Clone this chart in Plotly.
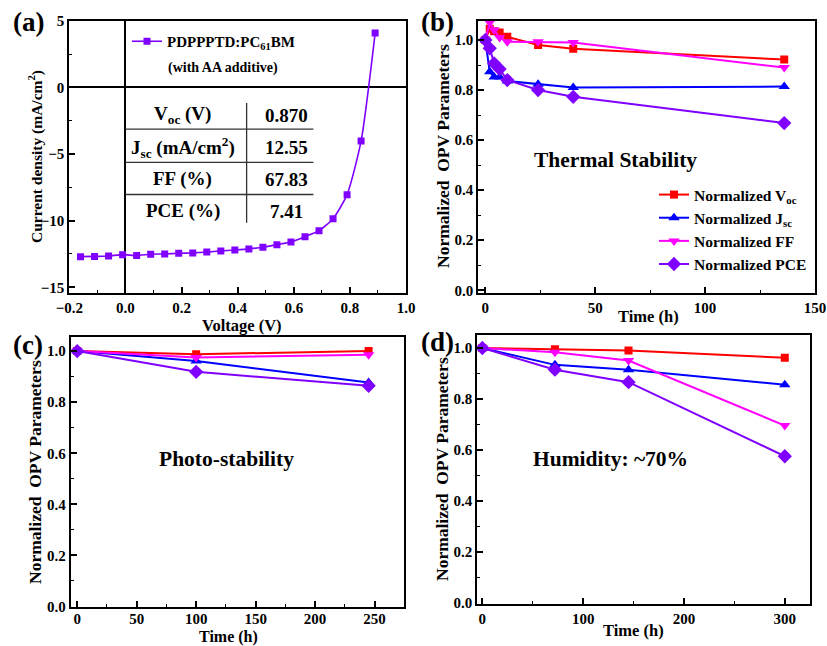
import plotly.graph_objects as go

# ---- (a) J-V curve ----
voltage = [-0.16, -0.11, -0.06, -0.01, 0.04, 0.09, 0.14, 0.19, 0.24, 0.29, 0.34,
           0.39, 0.44, 0.49, 0.54, 0.59, 0.64, 0.69, 0.74, 0.79, 0.84, 0.89]
current = [-12.70, -12.68, -12.65, -12.55, -12.62, -12.52, -12.50, -12.45, -12.42,
           -12.36, -12.27, -12.20, -12.12, -12.00, -11.80, -11.60, -11.20, -10.75,
           -9.85, -8.05, -4.02, 4.07]
table_params = ["V<sub>oc</sub> (V)", "J<sub>sc</sub> (mA/cm<sup>2</sup>)", "FF (%)", "PCE (%)"]
table_values = ["0.870", "12.55", "67.83", "7.41"]

# ---- (b) thermal stability ----
time_b = [0, 2, 4, 6.5, 10, 24, 40, 136]
voc_b = [1.0, 1.045, 1.035, 1.030, 1.013, 0.980, 0.965, 0.922]
jsc_b = [1.0, 0.873, 0.852, 0.852, 0.836, 0.823, 0.810, 0.814]
ff_b = [1.0, 1.070, 1.040, 1.010, 0.993, 0.993, 0.990, 0.890]
pce_b = [1.0, 0.967, 0.907, 0.884, 0.840, 0.800, 0.773, 0.668]

# ---- (c) photo-stability ----
time_c = [0, 100, 245]
voc_c = [1.0, 0.988, 1.0]
jsc_c = [1.0, 0.961, 0.877]
ff_c = [1.0, 0.975, 0.986]
pce_c = [1.0, 0.919, 0.864]

# ---- (d) humidity ----
time_d = [0, 72, 145, 300]
voc_d = [1.0, 0.995, 0.990, 0.962]
jsc_d = [1.0, 0.934, 0.915, 0.856]
ff_d = [1.0, 0.983, 0.951, 0.696]
pce_d = [1.0, 0.915, 0.866, 0.576]

series_names = ["Normalized V<sub>oc</sub>", "Normalized J<sub>sc</sub>",
                "Normalized FF", "Normalized PCE"]
colors = ["#ff0000", "#0000ff", "#ff00ff", "#8000ff"]
symbols = ["square", "triangle-up", "triangle-down", "diamond"]
msizes = [8, 10, 10, 11]

FONT = "Liberation Serif"
W, H = 827, 646

fig = go.Figure()

# J-V curve
fig.add_trace(go.Scatter(
    x=voltage, y=current, mode="lines+markers", xaxis="x", yaxis="y",
    line=dict(color="#8000ff", width=1.6, shape="spline", smoothing=0.6),
    marker=dict(symbol="square", size=7, color="#8000ff"),
    name="PDPPPTD:PC<sub>61</sub>BM", legend="legend2", showlegend=True))

panels = [
    ("x2", "y2", time_b, [voc_b, jsc_b, ff_b, pce_b], True),
    ("x3", "y3", time_c, [voc_c, jsc_c, ff_c, pce_c], False),
    ("x4", "y4", time_d, [voc_d, jsc_d, ff_d, pce_d], False),
]
for xa, ya, t, vals, show in panels:
    for i, v in enumerate(vals):
        fig.add_trace(go.Scatter(
            x=t, y=v, mode="lines+markers", xaxis=xa, yaxis=ya,
            name=series_names[i], showlegend=show, legend="legend",
            line=dict(color=colors[i], width=2),
            marker=dict(symbol=symbols[i], size=msizes[i], color=colors[i])))


def px_x(px):
    return px / W


def px_y(py):
    return 1 - py / H


tickfont = dict(family=FONT, size=15, color="black", weight="bold")


def axis(domain, rng, dtick, minor_dtick, anchor, fmt=None):
    d = dict(domain=domain, range=rng, anchor=anchor, dtick=dtick,
             automargin=False,
             showline=True, linewidth=2, linecolor="black", mirror=True,
             ticks="inside", ticklen=6, tickwidth=1.5, tickcolor="black",
             minor=dict(ticks="inside", ticklen=3, tickwidth=1.2,
                        tickcolor="black", dtick=minor_dtick),
             showgrid=False, zeroline=False, tickfont=tickfont)
    if fmt:
        d["tickformat"] = fmt
    return d


layout = dict(
    width=W, height=H, margin=dict(l=0, r=0, t=0, b=0, autoexpand=False),
    paper_bgcolor="white", plot_bgcolor="white",
    font=dict(family=FONT, color="black"),
    xaxis=axis([px_x(69.3), px_x(406)], [-0.2, 1.0], 0.2, 0.1, "y", ".1f"),
    yaxis=axis([px_y(293.3), px_y(20.7)], [-15.45, 5], 5, 2.5, "x"),
    xaxis2=axis([px_x(478.3), px_x(815)], [-3.2, 150], 50, 25, "y2"),
    yaxis2=axis([px_y(292.5), px_y(20.5)], [-0.009, 1.078], 0.2, 0.1, "x2", ".1f"),
    xaxis3=axis([px_x(70.7), px_x(404.3)], [-5.5, 275], 50, 25, "y3"),
    yaxis3=axis([px_y(607.3), px_y(337.3)], [-0.003, 1.054], 0.2, 0.1, "x3", ".1f"),
    xaxis4=axis([px_x(477.3), px_x(810)], [-5, 325], 100, 50, "y4"),
    yaxis4=axis([px_y(604), px_y(335)], [-0.003, 1.051], 0.2, 0.1, "x4", ".1f"),
    legend=dict(x=px_x(654), y=px_y(178), xanchor="left", yanchor="top",
                bgcolor="rgba(0,0,0,0)", borderwidth=0,
                font=dict(family=FONT, size=15.5, color="black", weight="bold"),
                itemwidth=30, tracegroupgap=0),
    legend2=dict(x=px_x(127), y=px_y(25), xanchor="left", yanchor="top",
                 bgcolor="rgba(0,0,0,0)", borderwidth=0,
                 font=dict(family=FONT, size=15, color="black", weight="bold"),
                 itemwidth=30),
)

# tick labels of (c) sit a little closer to the axis
layout["xaxis3"]["ticklabelstandoff"] = -3

# zero reference lines in (a)
for k in ("xaxis", "yaxis"):
    layout[k]["zeroline"] = True
    layout[k]["zerolinecolor"] = "black"
    layout[k]["zerolinewidth"] = 1.5

fig.update_layout(**layout)

ann = []
bold = dict(family=FONT, color="black", weight="bold")


def text_at(text, x, y, size, angle=0):
    ann.append(dict(text=text, x=px_x(x), y=px_y(y), xref="paper", yref="paper",
                    xanchor="center", yanchor="middle", textangle=angle,
                    showarrow=False, font=dict(size=size, **bold)))


# panel letters
for label, x, y in [("(a)", 28.5, 22), ("(b)", 437.5, 22), ("(c)", 27.5, 345), ("(d)", 437, 342)]:
    text_at(label, x, y, 27)

# axis titles
ylab = "Normalized  OPV Parameters"
text_at("Current density (mA/cm<sup>2</sup>)", 35, 157, 15.5, -90)
text_at("Voltage (V)", 242, 325, 16.5)
text_at(ylab, 443, 156, 17.5, -90)
text_at("Time (h)", 648, 316, 16.5)
text_at(ylab, 35, 472, 17.5, -90)
text_at("Time (h)", 229, 636.5, 16)
text_at(ylab, 442, 469, 17.5, -90)
text_at("Time (h)", 633, 630, 16.5)

# legend second line in (a)
text_at("(with AA additive)", 223, 68, 14)

# in-plot captions
text_at("Thermal Stability", 615, 160, 21.5)
text_at("Photo-stability", 226, 459, 21.5)
text_at("Humidity: ~70%", 610, 459, 21.5)

# parameter table inside (a)
row_y = [-2.09, -4.5, -6.9, -9.3]
for name, val, ry in zip(table_params, table_values, row_y):
    for txt, cx in ((name, 0.205), (val, 0.575)):
        ann.append(dict(text=txt, x=cx, y=ry, xref="x", yref="y", showarrow=False,
                        xanchor="center", yanchor="middle", font=dict(size=19, **bold)))

shapes = []
for sy in [-3.14, -5.63, -8.04]:
    shapes.append(dict(type="line", xref="x", yref="y", x0=0.0, x1=0.67, y0=sy, y1=sy,
                       line=dict(color="#333333", width=1.3)))
shapes.append(dict(type="line", xref="x", yref="y", x0=0.432, x1=0.432, y0=-1.18, y1=-10.15,
                   line=dict(color="#333333", width=1.3)))

fig.update_layout(annotations=ann, shapes=shapes)
fig.write_html("out.html")
